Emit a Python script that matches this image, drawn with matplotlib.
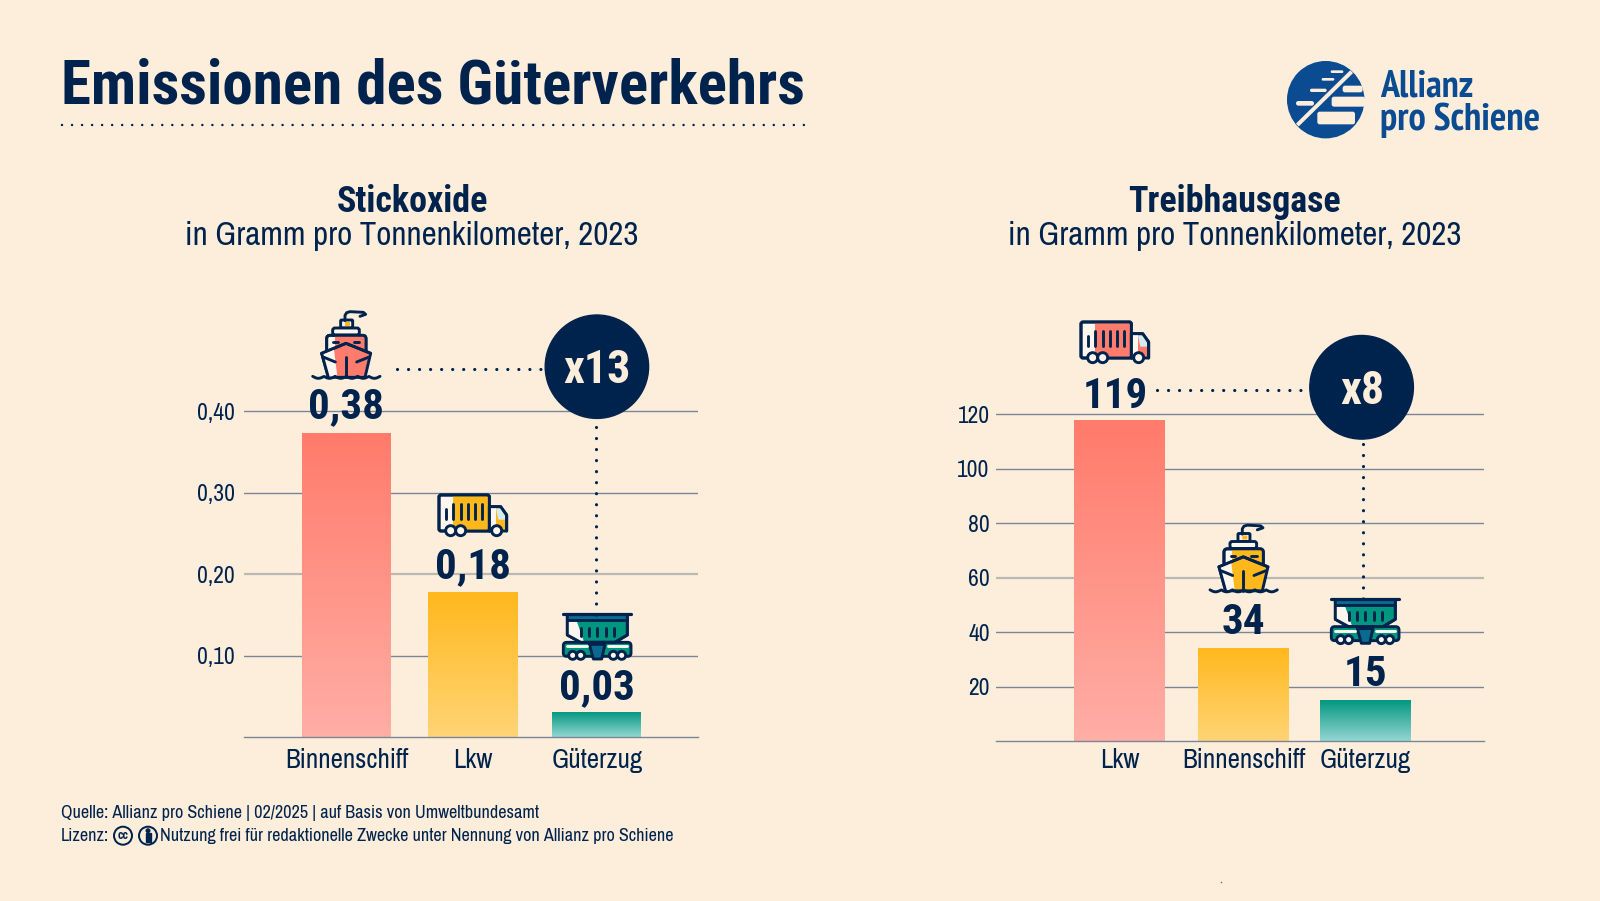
import numpy as np
import matplotlib
matplotlib.use("Agg")
import matplotlib.pyplot as plt
from matplotlib.patches import Circle, Rectangle, Polygon, FancyBboxPatch
from matplotlib.transforms import Affine2D

# Data
cats_left = ["Binnenschiff", "Lkw", "Güterzug"]
bars_left = [0.373, 0.178, 0.031]
labels_left = ["0,38", "0,18", "0,03"]
ticks_left = [0.10, 0.20, 0.30, 0.40]
ticklabels_left = ["0,10", "0,20", "0,30", "0,40"]

cats_right = ["Lkw", "Binnenschiff", "Güterzug"]
bars_right = [118.0, 34.2, 15.2]
labels_right = ["119", "34", "15"]
ticks_right = [20, 40, 60, 80, 100, 120]
ticklabels_right = ["20", "40", "60", "80", "100", "120"]

BG = "#fdeedc"
NAVY = "#00234d"
BLUE = "#0a4b92"
CORAL = ("#ff7b6b", "#ffaea6")
YELLOW = ("#ffb81c", "#ffd476")
TEAL = ("#00967f", "#93d6d2")
REG = ["Archivo Narrow", "Liberation Sans"]
BOLD = ["Roboto Condensed", "Liberation Sans"]
LOGO = ["PT Sans Narrow", "Liberation Sans"]
plt.rcParams["font.family"] = REG

W, H = 1600, 901
fig = plt.figure(figsize=(16, 9.01), dpi=100, facecolor=BG)


def px(size):
    return size * 0.72


def make_chart(x0, x1, y_top, y_base, units, xs, width, vals, cols, texts, ticks, ticklabels, cats, dx_lab, y_off, faint, xpad, ypad):
    ax = fig.add_axes([x0 / W, 1 - y_base / H, (x1 - x0) / W, (y_base - y_top) / H])
    ax.patch.set_alpha(0)
    ax.set_xlim(x0, x1)
    ax.set_ylim(0, (y_base - y_top) / units)
    for s in ["top", "left", "right"]:
        ax.spines[s].set_visible(False)
    ax.spines["bottom"].set_color("#7b8598")
    ax.spines["bottom"].set_linewidth(1.0)
    ax.set_yticks(ticks)
    ax.set_yticklabels(ticklabels)
    ax.set_xticks(xs)
    ax.set_xticklabels(cats)
    ax.tick_params(axis="y", length=0, pad=ypad, labelsize=px(23.5), labelcolor=NAVY)
    ax.tick_params(axis="x", length=0, pad=xpad, labelsize=px(27), labelcolor=NAVY)
    ax.grid(axis="y", color="#7b8598", lw=1.0)
    ax.set_axisbelow(True)
    bars = ax.bar(xs, vals, width=width, color="none")
    xl, yl = ax.get_xlim(), ax.get_ylim()
    for b, c, v, x, t, dx, yo in zip(bars, cols, vals, xs, texts, dx_lab, y_off):
        grad = np.linspace(0, 1, 128).reshape(-1, 1)
        c0 = np.array(matplotlib.colors.to_rgb(c[0]))
        c1 = np.array(matplotlib.colors.to_rgb(c[1]))
        img = (c0 + (c1 - c0) * grad[:, :, None])
        im = ax.imshow(img, extent=[x - width / 2, x + width / 2, 0, v], aspect="auto", zorder=2, origin="upper")
        im.set_clip_path(b)
        ax.annotate(t, (x, v), xytext=(dx * 0.72, yo * 0.72), textcoords="offset points", ha="center", va="baseline",
                    fontsize=px(43), fontweight="bold", family=BOLD, color=NAVY, zorder=3)
    ax.set_xlim(xl)
    ax.set_ylim(yl)
    # one gridline is paler and heavier in the original
    g = ax.yaxis.get_major_ticks()[faint].gridline
    g.set_color("#bdb8b0")
    g.set_linewidth(1.6)
    return ax


make_chart(243.8, 698, 400, 737.3, 815, [346.5, 472.7, 596.9], 89, bars_left, [CORAL, YELLOW, TEAL], labels_left,
           ticks_left, ticklabels_left, cats_left, [0, 0, 0], [15, 14, 13], 1, 7.5, 6.5)
make_chart(996, 1483.5, 400, 741.3, 2.725, [1119.4, 1243.5, 1365.4], 90.5, bars_right, [CORAL, YELLOW, TEAL], labels_right,
           ticks_right, ticklabels_right, cats_right, [-3.8, 0, 0], [12, 14, 14], 2, 4.5, 4.5)

# overlay in pixel coordinates
ov = fig.add_axes([0, 0, 1, 1])
ov.patch.set_alpha(0)
ov.set_xlim(0, W)
ov.set_ylim(H, 0)
ov.axis("off")


def dots(x0, y0, x1, y1, step=11.0, size=3.2, color=NAVY):
    lw = px(size)
    ov.plot([x0, x1], [y0, y1], color=color, lw=lw, dash_capstyle="round",
            linestyle=(0, (0.01, px(step) / lw)))


# header
ov.text(61, 103.3, "Emissionen des Güterverkehrs", fontsize=px(61), fontweight="bold", family=BOLD, color=NAVY, va="baseline")
dots(62.3, 124.7, 810, 124.7, step=10, size=2.5)

# subtitles
for xc, name in [(412, "Stickoxide"), (1234.6, "Treibhausgase")]:
    ov.text(xc, 212, name, ha="center", va="baseline", fontsize=px(36), fontweight="bold", family=BOLD, color=NAVY)
    ov.text(xc, 245, "in Gramm pro Tonnenkilometer, 2023", ha="center", va="baseline", fontsize=px(33), color=NAVY)

# connectors and badges
dots(397, 369.3, 542, 369.3)
dots(596.4, 426.7, 596.4, 615)
ov.add_patch(Circle((596.9, 366.7), 51.7, color=NAVY, zorder=5))
ov.text(596.9, 383, "x13", ha="center", va="baseline", color=BG, fontsize=px(46), fontweight="bold", family=BOLD, zorder=6)
dots(1156.7, 390.3, 1302, 390.3)
dots(1363, 444.3, 1363, 600)
ov.add_patch(Circle((1361.6, 387.3), 51.8, color=NAVY, zorder=5))
ov.text(1362.5, 404, "x8", ha="center", va="baseline", color=BG, fontsize=px(46), fontweight="bold", family=BOLD, zorder=6)


# icons, drawn in crop pixels (3x) from a local origin
def icon_tools(ox, oy):
    tr = Affine2D().scale(1 / 3).translate(ox, oy) + ov.transData
    lw = px(2.9)

    def line(xs, ys, color=NAVY, w=lw):
        ov.plot(xs, ys, color=color, lw=w, transform=tr, solid_capstyle="round", solid_joinstyle="round")

    def poly(pts, fc, ec=NAVY, w=lw):
        ov.add_patch(Polygon(pts, closed=True, fc=fc, ec=ec, lw=w, transform=tr, joinstyle="round"))

    def box(x, y, w_, h_, fc, ec=NAVY, r=8, w=lw):
        ov.add_patch(FancyBboxPatch((x, y), w_, h_, boxstyle=f"round,pad=0,rounding_size={r}", fc=fc, ec=ec, lw=w, transform=tr))

    def disc(x, y, r, fc="#fff7ee"):
        ov.add_patch(Circle((x, y), r, fc=fc, ec=NAVY, lw=lw, transform=tr))

    return line, poly, box, disc


def ship(ox, oy, col):
    line, poly, box, disc = icon_tools(ox, oy)
    line([135, 135, 140, 150, 190, 197, 180], [62, 46, 38, 35, 37, 43, 49])
    box(122, 60, 36, 24, "#fff7ee", r=3)
    box(135, 66, 15, 12, "#ffb81c", ec="none", r=0)
    box(98, 84, 80, 21, "#fff7ee", r=7)
    box(80, 106, 118, 66, "#fff7ee", r=10)
    poly([(105, 108), (194, 108), (194, 168), (105, 168)], col, ec="none")
    box(80, 106, 118, 66, "none", r=10)
    line([100, 114], [126, 126])
    line([162, 178], [126, 126])
    poly([(65, 160), (138, 130), (212, 160), (195, 232), (85, 232)], col)
    poly([(67, 162), (102, 148), (112, 230), (87, 230)], "#fff7ee", ec="none")
    line([65, 138, 212], [160, 130, 160])
    line([65, 85], [160, 232])
    line([138, 138], [172, 232])
    line([138], [150], w=px(3))
    line([72, 106], [172, 186])
    line([205, 170], [172, 186])
    xw = np.linspace(38, 240, 160)
    line(xw, 232 + 6 * np.abs(np.sin((xw - 38) / 202 * 6 * np.pi)) - 3)


def truck(ox, oy, col):
    line, poly, box, disc = icon_tools(ox, oy)
    box(27, 30, 151, 108, "#fff7ee", r=6)
    ov.add_patch(Rectangle((70, 33), 106, 102, fc=col, ec="none", transform=Affine2D().scale(1 / 3).translate(ox, oy) + ov.transData))
    box(27, 30, 151, 108, "none", r=6)
    for x in [70, 92, 113, 135, 157]:
        line([x, x], [58, 103])
    line([48, 48], [72, 103])
    line([48], [60])
    poly([(178, 65), (212, 65), (230, 90), (230, 138), (178, 138)], col)
    poly([(198, 70), (212, 70), (225, 92), (225, 104), (205, 104)], "#d3ebf2", ec="none")
    poly([(178, 67), (198, 67), (198, 136), (178, 136)], "#fff7ee", ec="none")
    line([178, 178], [65, 138])
    line([178, 212, 230, 230], [65, 65, 90, 138])
    for x in [62, 92, 200]:
        disc(x, 137, 15)


def wagon(ox, oy, col):
    line, poly, box, disc = icon_tools(ox, oy)
    poly([(412, 392), (412, 450), (452, 472), (555, 472), (592, 450), (592, 392)], col)
    poly([(414, 408), (440, 408), (462, 470), (452, 470), (414, 450)], "#fff7ee", ec="none")
    poly([(414, 392), (590, 392), (590, 405), (414, 405)], "#0b6a8f", ec="none")
    line([412, 412, 452, 555, 592, 592], [392, 450, 472, 472, 450, 392])
    line([412, 592], [406, 406])
    line([400, 603], [388, 388], w=px(3.2))
    for x in [452, 477, 502, 527, 552]:
        line([x, x], [428, 452])
    box(400, 472, 203, 42, col, r=10)
    line([412, 470], [484, 484], color="#fff7ee")
    line([535, 592], [484, 484], color="#fff7ee")
    poly([(478, 478), (525, 478), (515, 522), (490, 522)], "#0b6a8f")
    for x in [428, 452, 550, 575]:
        disc(x, 511, 12)


ship(300, 300, CORAL[0])
truck(430, 485, YELLOW[0])
wagon(430, 485, TEAL[0])
truck(1072, 312, CORAL[0])
ship(1197.3, 513.5, YELLOW[0])
wagon(1198, 469.3, TEAL[0])

# logo
ov.add_patch(Circle((1325.7, 99.7), 38, color=BLUE))
lt = Affine2D().scale(1 / 3).translate(1290, 55) + ov.transData
for x, y, w_, h_ in [(122, 46, 38, 8), (95, 69, 38, 8), (60, 101, 50, 10), (18, 138, 54, 14),
                     (158, 92, 60, 20), (125, 125, 100, 30), (82, 170, 113, 38)]:
    ov.add_patch(FancyBboxPatch((x, y), w_, h_, boxstyle=f"round,pad=0,rounding_size={min(h_ / 2, 7)}", fc=BG, ec="none", transform=lt))
ov.plot([22, 185], [210, 50], color=BG, lw=px(4), transform=lt, solid_capstyle="butt")
ov.text(1380, 96.2, "Allianz", fontsize=px(38), fontweight="bold", family=LOGO, color=BLUE, va="baseline")
ov.text(1380.5, 130, "pro Schiene", fontsize=px(38.5), fontweight="bold", family=LOGO, color=BLUE, va="baseline")

# footer
ov.text(61, 818, "Quelle: Allianz pro Schiene | 02/2025 | auf Basis von Umweltbundesamt", fontsize=px(18.2), color=NAVY, va="baseline")
ov.text(61, 841, "Lizenz:", fontsize=px(18.2), color=NAVY, va="baseline")
ov.add_patch(Circle((123, 835.7), 9, fc=BG, ec=NAVY, lw=px(2)))
ov.text(123, 835.7, "cc", ha="center", va="center", fontsize=px(12), fontweight="bold", family=BOLD, color=NAVY)
ov.add_patch(Circle((148, 835.7), 9, fc=BG, ec=NAVY, lw=px(2)))
ov.add_patch(Circle((148, 830.7), 1.8, color=NAVY))
ov.add_patch(Rectangle((145.5, 833), 5, 9, color=NAVY))
ov.text(160, 841, "Nutzung frei für redaktionelle Zwecke unter Nennung von Allianz pro Schiene", fontsize=px(18.2), color=NAVY, va="baseline")
ov.plot([1220.7], [882], "s", color="#5b6b82", ms=1.0, mew=0)

fig.savefig("out.png", dpi=100, facecolor=BG)
